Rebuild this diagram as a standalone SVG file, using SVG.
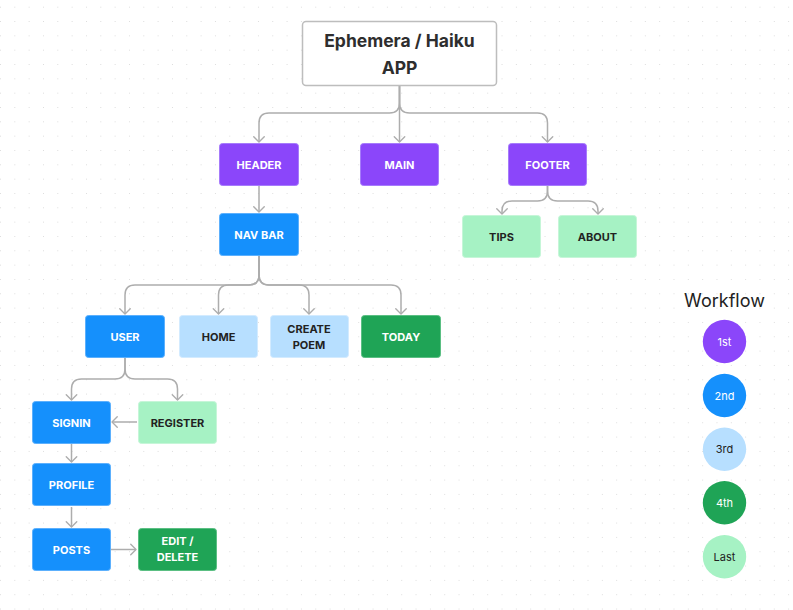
<svg xmlns="http://www.w3.org/2000/svg" width="793" height="610" viewBox="0 0 793 610">
<defs>
<pattern id="dots" x="0" y="6.7" width="14.33" height="14.33" patternUnits="userSpaceOnUse">
<rect x="-0.5" y="-0.5" width="1.2" height="1.2" fill="#bdbdbd"/>
</pattern>
<marker id="arr" markerUnits="userSpaceOnUse" markerWidth="14" markerHeight="14" refX="0" refY="0" viewBox="-8 -8 16 16" orient="auto">
<path d="M-6,-6 L0,0 L-6,6" fill="none" stroke="#adadad" stroke-width="1.6" stroke-linejoin="round" stroke-linecap="round"/>
</marker>
<style>
.n rect{stroke-width:1;}
.p rect{fill:#8b46fa;stroke:#a67bfb;}
.b rect{fill:#1590fc;stroke:#5cb0fd;}
.lb rect{fill:#b7dfff;stroke:#d3ebff;}
.g rect{fill:#1fa456;stroke:#5bbf83;}
.lg rect{fill:#a6f2c4;stroke:#c6f6d8;}
.n text{font-family:Inter,"Noto Sans",sans-serif;font-weight:700;font-size:11px;text-anchor:middle;}
.p text,.b text,.g text{fill:#ffffff;}
.lb text,.lg text{fill:#222222;}
.c path{fill:none;stroke:#adadad;stroke-width:1.5;marker-end:url(#arr);}
.leg text{font-family:Inter,"Noto Sans",sans-serif;font-size:11px;text-anchor:middle;}
.leg text.lt{font-size:18px;}
</style>
</defs>
<rect width="793" height="610" fill="#ffffff"/>
<rect width="793" height="610" fill="url(#dots)"/>

<g id="connectors" class="c">
<path d="M399.5,86 V103 Q399.5,113 389.5,113 H269 Q259,113 259,123 V142"/>
<path d="M399.5,86 V142"/>
<path d="M399.5,86 V103 Q399.5,113 409.5,113 H537.5 Q547.5,113 547.5,123 V142"/>
<path d="M259,186 V212"/>
<path d="M547.5,186 V191 Q547.5,201 537.5,201 H512 Q502,201 502,211 V214"/>
<path d="M547.5,186 V191 Q547.5,201 557.5,201 H588 Q598,201 598,211 V214"/>
<path d="M259,256 V275 Q259,285 249,285 H135 Q125,285 125,295 V314"/>
<path d="M259,256 V275 Q259,285 249,285 H228.5 Q218.5,285 218.5,295 V314"/>
<path d="M259,256 V275 Q259,285 269,285 H299 Q309,285 309,295 V314"/>
<path d="M259,256 V275 Q259,285 269,285 H391 Q401,285 401,295 V314"/>
<path d="M125,358 V369 Q125,379 115,379 H81.5 Q71.5,379 71.5,389 V400"/>
<path d="M125,358 V369 Q125,379 135,379 H167.5 Q177.5,379 177.5,389 V400"/>
<path d="M137,422 H112"/>
<path d="M71.5,444 V462"/>
<path d="M71.5,507 V527"/>
<path d="M111,549.5 H136"/>
</g>

<g id="title">
<rect x="302.5" y="21.5" width="194" height="64" rx="3.5" fill="#ffffff" stroke="#bdbdbd" stroke-width="1.5"/>
<text x="399.5" y="47" font-family="Inter,'Noto Sans',sans-serif" font-weight="700" font-size="17.5" fill="#2e2e2e" text-anchor="middle">Ephemera / Haiku</text>
<text x="399.5" y="74" font-family="Inter,'Noto Sans',sans-serif" font-weight="700" font-size="17.5" fill="#2e2e2e" text-anchor="middle">APP</text>
</g>

<g id="header" class="n p"><rect x="219.5" y="143.5" width="79" height="42" rx="3"/><text x="259" y="168.5">HEADER</text></g>
<g id="main" class="n p"><rect x="360.5" y="143.5" width="78" height="42" rx="3"/><text x="399.5" y="168.5">MAIN</text></g>
<g id="footer" class="n p"><rect x="508.5" y="143.5" width="78" height="42" rx="3"/><text x="547.5" y="168.5">FOOTER</text></g>
<g id="navbar" class="n b"><rect x="219.5" y="213.5" width="79" height="42" rx="3"/><text x="259" y="238.5">NAV BAR</text></g>
<g id="tips" class="n lg"><rect x="462.5" y="215.5" width="78" height="42" rx="3"/><text x="501.5" y="240.5">TIPS</text></g>
<g id="about" class="n lg"><rect x="558.5" y="215.5" width="78" height="42" rx="3"/><text x="597.5" y="240.5">ABOUT</text></g>
<g id="user" class="n b"><rect x="85.5" y="315.5" width="79" height="42" rx="3"/><text x="125" y="340.5">USER</text></g>
<g id="home" class="n lb"><rect x="179.5" y="315.5" width="78" height="42" rx="3"/><text x="218.5" y="340.5">HOME</text></g>
<g id="createpoem" class="n lb"><rect x="270.5" y="315.5" width="78" height="42" rx="3"/><text x="309" y="332.5">CREATE</text><text x="309" y="348.5">POEM</text></g>
<g id="today" class="n g"><rect x="361.5" y="315.5" width="79" height="42" rx="3"/><text x="401" y="340.5">TODAY</text></g>
<g id="signin" class="n b"><rect x="32.5" y="401.5" width="78" height="42" rx="3"/><text x="71.5" y="426.5">SIGNIN</text></g>
<g id="register" class="n lg"><rect x="138.5" y="401.5" width="78" height="42" rx="3"/><text x="177.5" y="426.5">REGISTER</text></g>
<g id="profile" class="n b"><rect x="32.5" y="463.5" width="78" height="42" rx="3"/><text x="71.5" y="488.5">PROFILE</text></g>
<g id="posts" class="n b"><rect x="32.5" y="528.5" width="78" height="42" rx="3"/><text x="71.5" y="553.5">POSTS</text></g>
<g id="editdelete" class="n g"><rect x="138.5" y="528.5" width="78" height="42" rx="3"/><text x="177.5" y="545">EDIT /</text><text x="177.5" y="561">DELETE</text></g>

<g id="legend" class="leg">
<text class="lt" x="724.5" y="307" fill="#222222">Workflow</text>
<circle cx="724.5" cy="341.5" r="21.7" fill="#8b46fa"/><text x="724.5" y="345.5" fill="#ffffff">1st</text>
<circle cx="724.5" cy="395.5" r="21.7" fill="#1590fc"/><text x="724.5" y="399.5" fill="#ffffff">2nd</text>
<circle cx="724.5" cy="449.3" r="21.7" fill="#b7dfff"/><text x="724.5" y="453.3" fill="#222222">3rd</text>
<circle cx="724.5" cy="502.7" r="21.7" fill="#1fa456"/><text x="724.5" y="506.7" fill="#ffffff">4th</text>
<circle cx="724.5" cy="556.7" r="21.7" fill="#a6f2c4"/><text x="724.5" y="560.7" fill="#222222">Last</text>
</g>
</svg>
